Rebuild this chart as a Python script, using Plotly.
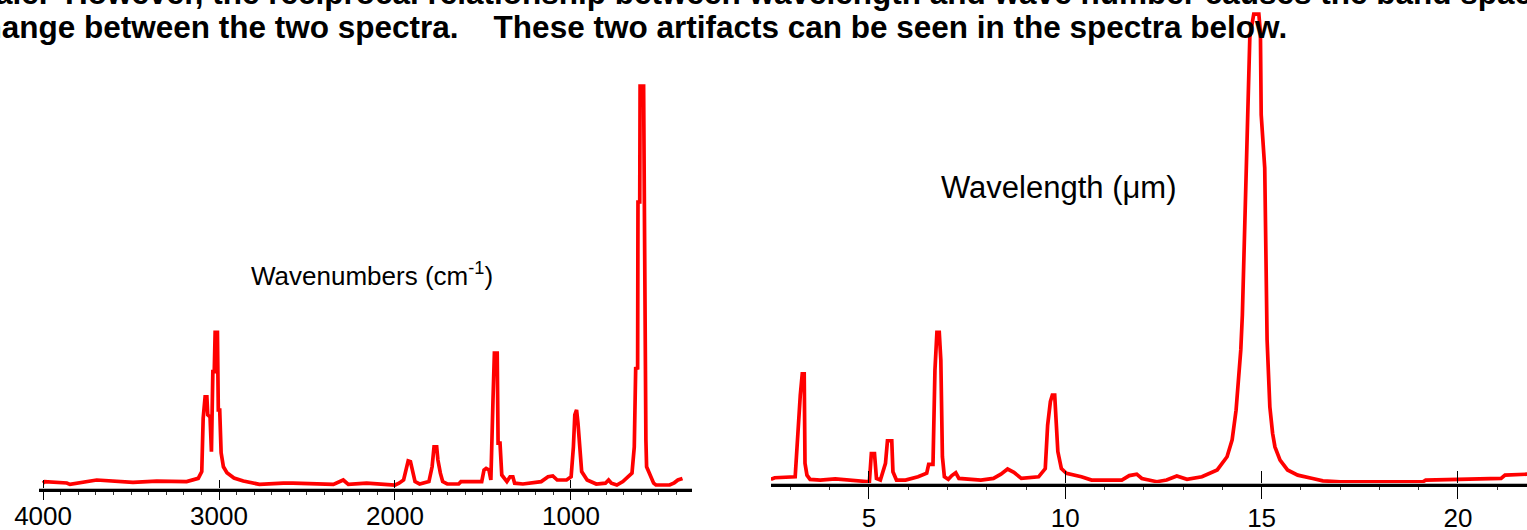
import plotly.graph_objects as go

W, H = 1527, 530

# ---------------- data ----------------
# Left spectrum: wavenumber (cm-1) vs intensity (arbitrary units)
wavenumber = [4000, 3990, 3865, 3847, 3695, 3638, 3489, 3354, 3184, 3118, 3098, 3090, 3079, 3069,
              3064, 3051, 3043, 3035, 3027, 3022, 3009, 3004, 2996, 2988, 2975, 2955, 2915, 2862,
              2786, 2770, 2635, 2580, 2350, 2294, 2265, 2161, 2000, 1977, 1951, 1935, 1925, 1912,
              1899, 1886, 1860, 1807, 1789, 1778, 1763, 1756, 1742, 1729, 1703, 1638, 1625, 1507,
              1494, 1482, 1466, 1455, 1443, 1435, 1419, 1414, 1403, 1393, 1364, 1346, 1330, 1320,
              1273, 1169, 1130, 1103, 1078, 1025, 999, 986, 978, 968, 960, 950, 939, 908, 856, 804,
              786, 770, 739, 705, 653, 640, 632, 621, 619, 609, 607, 587, 582, 577, 574, 570, 548,
              530, 517, 439, 413, 392, 366]
intensity_wn = [1.7, 2.1, 1.75, 1.4, 2.5, 2.3, 1.9, 2.2, 2.1, 2.9, 4.6, 17.9, 23.3, 23.3,
                18.8, 18.3, 9.6, 29.6, 29.6, 39.4, 39.4, 20, 20, 9.3, 5.8, 4.3, 3.0, 2.25,
                1.7, 1.4, 1.7, 1.7, 1.4, 2.5, 1.4, 1.7, 1.25, 1.7, 2.5, 5.4, 7.3, 7.1,
                4.2, 2.1, 1.5, 2.1, 5.8, 10.8, 10.8, 7.5, 4.2, 2.1, 1.5, 1.5, 2.1, 2.1,
                5.0, 5.4, 5.0, 2.5, 22.5, 34.2, 34.2, 11.7, 11.7, 3.75, 2.1, 3.3, 3.3, 1.7,
                1.5, 2.1, 3.3, 3.5, 2.5, 2.5, 3.3, 10.8, 18.8, 20, 16.7, 10.4, 4.6, 2.5, 1.5, 1.7,
                2.5, 1.7, 1.25, 2.1, 4.2, 10.8, 30.4, 30.5, 72, 72, 101, 101, 52.5, 52.5, 12.5, 5.8, 3.3,
                1.7, 1.25, 1.25, 1.8, 2.5, 2.9]

# Right spectrum: wavelength (um) vs intensity (arbitrary units)
wavelength = [2.50, 2.60, 3.12, 3.20, 3.25, 3.30, 3.35, 3.37, 3.42, 3.50, 3.76, 4.14, 4.59, 5.01,
              5.06, 5.14, 5.19, 5.29, 5.42, 5.47, 5.58, 5.61, 5.70, 5.93, 6.25, 6.47, 6.52, 6.63,
              6.68, 6.73, 6.79, 6.83, 6.87, 6.92, 7.02, 7.11, 7.21, 7.29, 7.85, 8.17, 8.36, 8.53,
              8.69, 8.88, 9.32, 9.49, 9.55, 9.62, 9.67, 9.73, 9.77, 9.81, 9.90, 10.03, 10.41, 10.67,
              11.44, 11.63, 11.82, 11.95, 12.33, 12.58, 12.84, 13.10, 13.48, 13.87, 14.12, 14.25,
              14.35, 14.42, 14.47, 14.51, 14.55, 14.60, 14.63, 14.70, 14.80, 14.93, 14.97, 14.99,
              15.08, 15.12, 15.14, 15.21, 15.28, 15.34, 15.47, 15.66, 15.92, 16.30, 16.56, 17.0,
              19.11, 19.18, 21.1, 21.2, 21.77]
intensity_wl = [1.2, 1.55, 1.75, 14.5, 19.1, 23.6, 23.6, 4.6, 2.1, 1.2, 1.05, 1.3, 1.05, 0.7,
                6.7, 6.7, 1.4, 1.05, 4.6, 9.4, 9.4, 2.8, 1.05, 1.05, 1.75, 2.5, 4.4, 4.4,
                24.4, 32.4, 32.4, 26.5, 6.0, 1.75, 1.2, 2.0, 2.6, 1.4, 1.05, 1.4, 2.3, 3.4,
                2.7, 1.4, 1.75, 3.5, 12.7, 17.7, 19.1, 19.1, 13.1, 7.1, 3.5, 2.5, 1.75, 1.05,
                1.05, 2.0, 2.3, 1.4, 0.7, 1.05, 1.9, 1.2, 1.75, 3.2, 6.0, 9.6,
                15.9, 23.0, 28.7, 36.1, 49.9, 62.6, 76.0, 95.1, 100, 100, 96.0, 78.6,
                67.3, 39.3, 30.8, 16.6, 11.0, 8.1, 5.3, 3.2, 2.1, 1.4, 0.9, 0.7,
                0.7, 1.05, 1.4, 2.1, 2.3]

wn_ticks = [4000, 3000, 2000, 1000]
wl_ticks = [5, 10, 15, 20]

title_wn = "Wavenumbers (cm<sup>-1</sup>)"
title_wl = "Wavelength (\u03bcm)"
text_line1 = "scale.\u00a0 However, the reciprocal relationship between wavelength and wave number causes the band spacing to"
text_line2 = "change between the two spectra.\u00a0\u00a0\u00a0 These two artifacts can be seen in the spectra below."

# ---------------- helpers for pixel placement ----------------
def px(x):
    return x / W

def py(y):
    return 1 - y / H

RED = "#ff0000"
LABEL_FONT = "Liberation Sans, Arial, sans-serif"
BODY_FONT = "Liberation Sans, Arial, sans-serif"

fig = go.Figure()

fig.add_trace(go.Scatter(x=wavenumber, y=intensity_wn, mode="lines",
                         line=dict(color=RED, width=3.7), xaxis="x", yaxis="y",
                         showlegend=False, hoverinfo="skip"))
fig.add_trace(go.Scatter(x=wavelength, y=intensity_wl, mode="lines",
                         line=dict(color=RED, width=3.7), xaxis="x2", yaxis="y2",
                         showlegend=False, hoverinfo="skip"))
# invisible carriers for the overlay (inside-tick) axes
fig.add_trace(go.Scatter(x=wavenumber, y=intensity_wn, mode="lines", opacity=0,
                         line=dict(width=0), xaxis="x3", yaxis="y",
                         showlegend=False, hoverinfo="skip"))
fig.add_trace(go.Scatter(x=wavelength, y=intensity_wl, mode="lines", opacity=0,
                         line=dict(width=0), xaxis="x4", yaxis="y2",
                         showlegend=False, hoverinfo="skip"))

left_dom = [px(39), px(692)]
right_dom = [px(771), 1.0]
left_range = [4023, 312]
right_range = [2.504, 21.76]
left_pos = py(490)
right_pos = py(485)

common_axis = dict(showgrid=False, zeroline=False, fixedrange=True, automargin=False)

fig.update_layout(
    template="none",
    width=W, height=H,
    margin=dict(l=0, r=0, t=0, b=0, pad=0, autoexpand=False),
    paper_bgcolor="white", plot_bgcolor="white",
    showlegend=False,
    xaxis=dict(domain=left_dom, range=left_range, anchor="free", position=left_pos,
               showline=True, linecolor="black", linewidth=4,
               tickmode="array", tickvals=wn_ticks, ticks="outside", ticklen=8,
               tickwidth=1, tickcolor="black",
               minor=dict(dtick=100, ticks="outside", ticklen=3, tickwidth=1, tickcolor="#333"),
               tickfont=dict(family=LABEL_FONT, size=26, color="black"),
               ticklabelstandoff=-6, **common_axis),
    xaxis3=dict(domain=left_dom, range=left_range, anchor="free", position=py(487.5),
                overlaying="x", showline=True, linecolor="#b8b8b8", linewidth=1,
                tickmode="array", tickvals=wn_ticks, ticks="inside", ticklen=8,
                tickwidth=1, tickcolor="black", showticklabels=False, **common_axis),
    xaxis2=dict(domain=right_dom, range=right_range, anchor="free", position=right_pos,
                showline=True, linecolor="black", linewidth=4,
                tickmode="array", tickvals=wl_ticks, ticks="outside", ticklen=12,
                tickwidth=1, tickcolor="black",
                minor=dict(dtick=1, ticks="outside", ticklen=3, tickwidth=1, tickcolor="#333"),
                tickfont=dict(family=LABEL_FONT, size=26, color="black"),
                ticklabelstandoff=-3, **common_axis),
    xaxis4=dict(domain=right_dom, range=right_range, anchor="free", position=py(482.5),
                overlaying="x2", showline=True, linecolor="#b8b8b8", linewidth=1,
                tickmode="array", tickvals=wl_ticks, ticks="inside", ticklen=12,
                tickwidth=1, tickcolor="black", showticklabels=False, **common_axis),
    yaxis=dict(domain=[0, 1], range=[-10, 122.5], anchor="x", visible=False, **common_axis),
    yaxis2=dict(domain=[0, 1], range=[-9.55, 103], anchor="x2", visible=False, **common_axis),
)

fig.add_annotation(text=title_wn, xref="paper", yref="paper", x=px(372), y=py(274),
                   xanchor="center", yanchor="middle", showarrow=False,
                   font=dict(family=LABEL_FONT, size=26, color="black"))
fig.add_annotation(text=title_wl, xref="paper", yref="paper", x=px(1059), y=py(187),
                   xanchor="center", yanchor="middle", showarrow=False,
                   font=dict(family=LABEL_FONT, size=31, color="black"))
fig.add_annotation(text="<b>" + text_line1 + "</b>", xref="paper", yref="paper",
                   x=px(-42), y=py(-7), xanchor="left", yanchor="middle", showarrow=False,
                   font=dict(family=BODY_FONT, size=31.5, color="black"))
fig.add_annotation(text="<b>" + text_line2 + "</b>", xref="paper", yref="paper",
                   x=px(1289), y=py(27), xanchor="right", yanchor="middle", showarrow=False,
                   font=dict(family=BODY_FONT, size=31.5, color="black"))

fig.write_html("out.html")
